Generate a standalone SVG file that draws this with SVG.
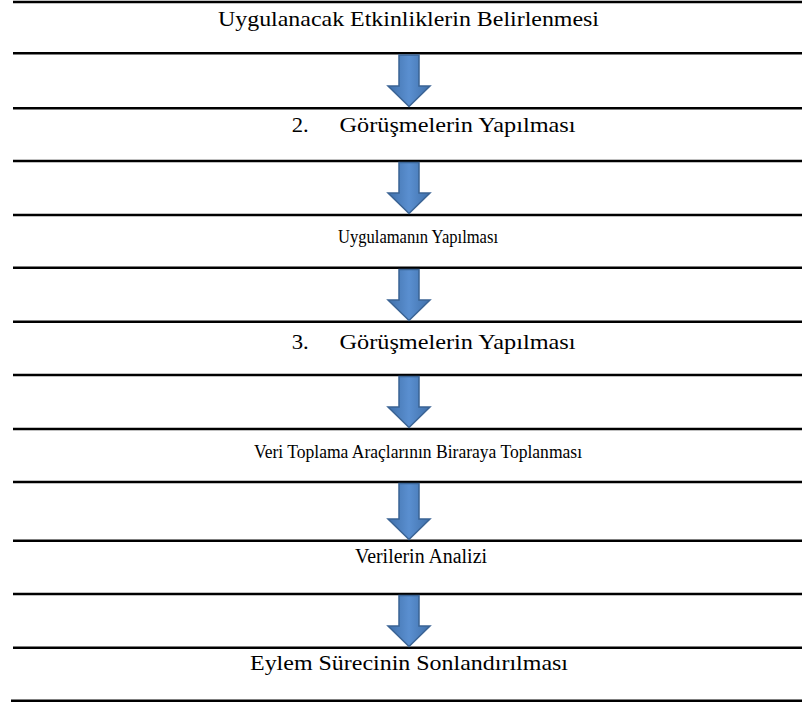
<svg xmlns="http://www.w3.org/2000/svg" width="802" height="704" viewBox="0 0 802 704">
<style>
.rule{stroke:#000;stroke-width:2.6;fill:none}
.lbl{font-family:"Liberation Serif","Times New Roman","DejaVu Serif",serif;font-size:22px;fill:#000}
.arr{fill:url(#ag);stroke:#3a6394;stroke-width:1.5;stroke-linejoin:miter}
</style>
<defs>
<linearGradient id="ag" x1="0" y1="0" x2="1" y2="0">
<stop offset="0" stop-color="#4070aa"/>
<stop offset="0.5" stop-color="#5a8fd0"/>
<stop offset="1" stop-color="#4070aa"/>
</linearGradient>
</defs>
<rect width="802" height="704" fill="#fff"/>
<g id="rules">
<line class="rule" x1="13" y1="2" x2="802" y2="2"/>
<line class="rule" x1="13" y1="53.3" x2="802" y2="53.3"/>
<line class="rule" x1="13" y1="108.3" x2="802" y2="108.3"/>
<line class="rule" x1="13" y1="161" x2="802" y2="161"/>
<line class="rule" x1="13" y1="215" x2="802" y2="215"/>
<line class="rule" x1="13" y1="267.7" x2="802" y2="267.7"/>
<line class="rule" x1="13" y1="321.7" x2="802" y2="321.7"/>
<line class="rule" x1="13" y1="375" x2="802" y2="375"/>
<line class="rule" x1="13" y1="429" x2="802" y2="429"/>
<line class="rule" x1="13" y1="482" x2="802" y2="482"/>
<line class="rule" x1="13" y1="540.7" x2="802" y2="540.7"/>
<line class="rule" x1="13" y1="594" x2="802" y2="594"/>
<line class="rule" x1="13" y1="647.7" x2="802" y2="647.7"/>
<line class="rule" x1="11" y1="700.7" x2="802" y2="700.7"/>
</g>
<g id="n1"><text class="lbl" x="218" y="25.5" textLength="381" lengthAdjust="spacingAndGlyphs">Uygulanacak Etkinliklerin Belirlenmesi</text></g>
<g id="n2"><text class="lbl" x="291.7" y="132" textLength="17" lengthAdjust="spacingAndGlyphs">2.</text><text class="lbl" x="339.5" y="132" textLength="236" lengthAdjust="spacingAndGlyphs">Görüşmelerin Yapılması</text></g>
<g id="n3"><text class="lbl" x="338" y="243" style="font-size:18px" textLength="160" lengthAdjust="spacingAndGlyphs">Uygulamanın Yapılması</text></g>
<g id="n4"><text class="lbl" x="291.7" y="349" textLength="17" lengthAdjust="spacingAndGlyphs">3.</text><text class="lbl" x="339.5" y="349" textLength="236" lengthAdjust="spacingAndGlyphs">Görüşmelerin Yapılması</text></g>
<g id="n5"><text class="lbl" x="254" y="458" style="font-size:18.5px" textLength="328" lengthAdjust="spacingAndGlyphs">Veri Toplama Araçlarının Biraraya Toplanması</text></g>
<g id="n6"><text class="lbl" x="355" y="563" style="font-size:20px" textLength="132" lengthAdjust="spacingAndGlyphs">Verilerin Analizi</text></g>
<g id="n7"><text class="lbl" x="250" y="670" textLength="318" lengthAdjust="spacingAndGlyphs">Eylem Sürecinin Sonlandırılması</text></g>
<g id="connectors">
<path class="arr" d="M399,55 L419,55 L419,86 L430,86 L409,106.5 L388,86 L399,86 Z"/>
<path class="arr" d="M399,162.5 L419,162.5 L419,193 L430,193 L409,213.5 L388,193 L399,193 Z"/>
<path class="arr" d="M399,269.5 L419,269.5 L419,300 L430,300 L409,320.5 L388,300 L399,300 Z"/>
<path class="arr" d="M399,376.5 L419,376.5 L419,407 L430,407 L409,427.5 L388,407 L399,407 Z"/>
<path class="arr" d="M399,483.5 L419,483.5 L419,519 L430,519 L409,539.5 L388,519 L399,519 Z"/>
<path class="arr" d="M399,595.5 L419,595.5 L419,626 L430,626 L409,646.5 L388,626 L399,626 Z"/>
</g>
</svg>
